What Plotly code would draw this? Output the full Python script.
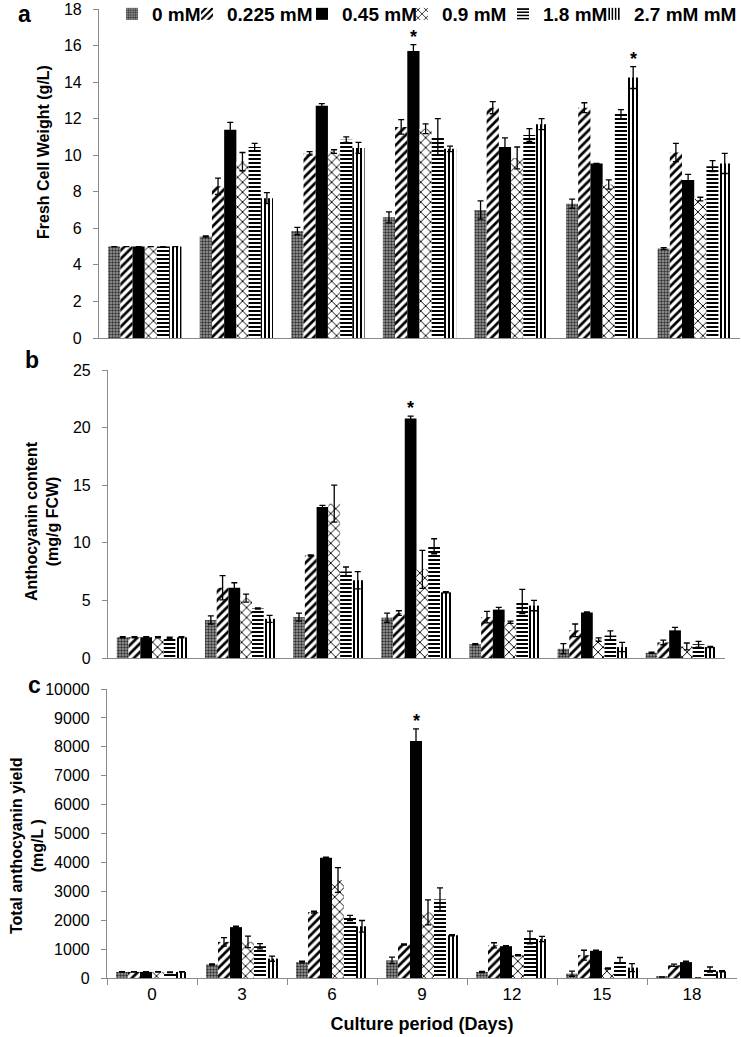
import plotly.graph_objects as go

days = ["0", "3", "6", "9", "12", "15", "18"]
conc = ["0 mM", "0.225 mM", "0.45 mM", "0.9 mM", "1.8 mM", "2.7 mM mM"]

# Panel a: Fresh cell weight (g/L)
fcw_0 = [5.0, 5.55, 5.85, 6.6, 7.0, 7.35, 4.9]
fcw_0225 = [5.0, 8.3, 10.1, 11.55, 12.6, 12.6, 10.15]
fcw_045 = [5.0, 11.4, 12.7, 15.7, 10.45, 9.55, 8.65]
fcw_09 = [5.0, 9.65, 10.2, 11.45, 9.85, 8.4, 7.6]
fcw_18 = [5.0, 10.45, 10.85, 11.0, 11.1, 12.25, 9.4]
fcw_27 = [5.0, 7.65, 10.4, 10.35, 11.7, 14.25, 9.55]
fcw_err_0 = [0, 0.03, 0.2, 0.3, 0.5, 0.25, 0.05]
fcw_err_0225 = [0, 0.45, 0.1, 0.4, 0.33, 0.27, 0.5]
fcw_err_045 = [0, 0.4, 0.12, 0.35, 0.5, 0, 0.3]
fcw_err_09 = [0, 0.5, 0.1, 0.27, 0.6, 0.25, 0.1]
fcw_err_18 = [0, 0.2, 0.15, 1.0, 0.35, 0.25, 0.3]
fcw_err_27 = [0, 0.3, 0.3, 0.15, 0.3, 0.6, 0.55]

# Panel b: Anthocyanin content (mg/g FCW)
ac_0 = [1.8, 3.3, 3.55, 3.5, 1.2, 0.8, 0.45]
ac_0225 = [1.8, 6.1, 8.9, 3.9, 3.55, 2.4, 1.35]
ac_045 = [1.8, 6.1, 13.1, 20.8, 4.2, 3.95, 2.4]
ac_09 = [1.8, 5.2, 13.4, 7.7, 3.1, 1.6, 1.0]
ac_18 = [1.75, 4.3, 7.5, 9.7, 4.9, 1.95, 1.2]
ac_27 = [1.8, 3.4, 6.75, 5.7, 4.55, 0.95, 0.95]
ac_err_0 = [0.05, 0.35, 0.35, 0.4, 0.05, 0.45, 0.05]
ac_err_0225 = [0.05, 1.05, 0.05, 0.2, 0.5, 0.55, 0.2]
ac_err_045 = [0.05, 0.43, 0.15, 0.2, 0.2, 0.05, 0.25]
ac_err_09 = [0.05, 0.35, 1.6, 1.65, 0.1, 0.15, 0.3]
ac_err_18 = [0.05, 0.05, 0.4, 0.65, 1.05, 0.4, 0.25]
ac_err_27 = [0.05, 0.3, 0.75, 0.05, 0.45, 0.4, 0.05]

# Panel c: Total anthocyanin yield (mg/L)
ty_0 = [210, 470, 550, 610, 210, 150, 35]
ty_0225 = [210, 1250, 2280, 1160, 1130, 790, 440]
ty_045 = [210, 1760, 4160, 8200, 1100, 940, 550]
ty_09 = [210, 1250, 3390, 2270, 790, 330, 0]
ty_18 = [200, 1100, 2080, 2720, 1400, 620, 290]
ty_27 = [210, 670, 1790, 1480, 1350, 360, 230]
ty_err_0 = [10, 20, 30, 110, 20, 90, 5]
ty_err_0225 = [10, 150, 30, 20, 90, 170, 40]
ty_err_045 = [10, 30, 20, 420, 20, 20, 30]
ty_err_09 = [10, 200, 430, 430, 20, 20, 0]
ty_err_18 = [10, 90, 90, 400, 220, 90, 90]
ty_err_27 = [10, 90, 200, 20, 90, 140, 20]

# significance stars: (panel, day index, concentration index)
stars = [(0, 3, 2), (0, 5, 5), (1, 3, 2), (2, 3, 2)]

panels = [
    ([fcw_0, fcw_0225, fcw_045, fcw_09, fcw_18, fcw_27],
     [fcw_err_0, fcw_err_0225, fcw_err_045, fcw_err_09, fcw_err_18, fcw_err_27]),
    ([ac_0, ac_0225, ac_045, ac_09, ac_18, ac_27],
     [ac_err_0, ac_err_0225, ac_err_045, ac_err_09, ac_err_18, ac_err_27]),
    ([ty_0, ty_0225, ty_045, ty_09, ty_18, ty_27],
     [ty_err_0, ty_err_0225, ty_err_045, ty_err_09, ty_err_18, ty_err_27]),
]

patterns = [
    dict(shape=".", fgcolor="#333333", bgcolor="#a0a0a0", size=3, solidity=0.5, fillmode="replace"),
    dict(shape="/", fgcolor="#000000", bgcolor="#ffffff", size=6, solidity=0.45, fillmode="replace"),
    dict(shape="", fgcolor="#000000", bgcolor="#000000"),
    dict(shape="x", fgcolor="#000000", bgcolor="#ffffff", size=7, solidity=0.25, fillmode="replace"),
    dict(shape="-", fgcolor="#000000", bgcolor="#ffffff", size=4, solidity=0.5, fillmode="replace"),
    dict(shape="|", fgcolor="#000000", bgcolor="#ffffff", size=4, solidity=0.5, fillmode="replace"),
]
colors = ["#9a9a9a", "#ffffff", "#000000", "#ffffff", "#ffffff", "#ffffff"]

W, H = 741, 1037
BARGAP = 0.2
FONT = "Liberation Sans, Arial, sans-serif"
legend_ids = ["legend", "legend2", "legend3", "legend4", "legend5", "legend6"]
legend_text_px = [150, 225, 340, 440, 541, 632]  # left edge of each legend label

fig = go.Figure()
axis_ids = ["", "2", "3"]
for p, (vals, errs) in enumerate(panels):
    for k, name in enumerate(conc):
        fig.add_trace(go.Bar(
            x=days, y=vals[k], name=name,
            xaxis="x" + axis_ids[p], yaxis="y" + axis_ids[p],
            marker=dict(color=colors[k], pattern=patterns[k], line=dict(width=0)),
            error_y=dict(type="data", array=errs[k], visible=True, color="#000000",
                         thickness=1.3, width=3),
            legendgroup=name, showlegend=(p == 0), legend=legend_ids[k],
        ))

# domains in pixel space
xdom_px = [(99, 740), (108, 725), (107, 737)]
ydom_px = [(9, 338), (370, 658), (689, 978)]
yranges = [(0, 18), (0, 25), (0, 10000)]
ydticks = [2, 5, 1000]

layout = dict(
    width=W, height=H,
    margin=dict(l=0, r=0, t=0, b=0, autoexpand=False),
    paper_bgcolor="white", plot_bgcolor="white",
    barmode="group", bargap=BARGAP, bargroupgap=0,
    font=dict(family=FONT, size=16, color="#000000"),
)
for k, lid in enumerate(legend_ids):
    layout[lid] = dict(x=(legend_text_px[k] - 38) / W, y=1 - 14 / H,
                       xanchor="left", yanchor="middle", orientation="h",
                       font=dict(family=FONT, size=19, weight="bold", color="#000000"),
                       bgcolor="rgba(255,255,255,0)", borderwidth=0, itemwidth=30)
for p in range(3):
    sfx = axis_ids[p]
    x0, x1 = xdom_px[p]
    yt, yb = ydom_px[p]
    layout["xaxis" + sfx] = dict(
        domain=[x0 / W, x1 / W], anchor="y" + sfx, type="category",
        showline=True, linecolor="#8a8a8a", linewidth=1.2,
        showgrid=False, zeroline=False,
        showticklabels=(p == 2), tickson="boundaries",
        ticks="outside" if p == 2 else "", ticklen=6, tickcolor="#8a8a8a",
        tickfont=dict(family=FONT, size=17),
        title=dict(text="Culture period (Days)" if p == 2 else "",
                   font=dict(family=FONT, size=18, weight="bold"), standoff=14),
        fixedrange=True,
    )
    layout["yaxis" + sfx] = dict(
        domain=[1 - yb / H, 1 - yt / H], anchor="x" + sfx,
        range=list(yranges[p]), dtick=ydticks[p], tick0=0, tickformat="d",
        showline=True, linecolor="#8a8a8a", linewidth=1.2,
        showgrid=False, zeroline=False,
        ticks="outside", ticklen=5, tickcolor="#8a8a8a",
        tickfont=dict(family=FONT, size=16), ticklabelstandoff=8,
        fixedrange=True,
    )
fig.update_layout(**layout)

annotations = []
# panel letters
for letter, (px, py) in zip(["a", "b", "c"], [(24, 14), (32, 360), (34, 685)]):
    annotations.append(dict(text="<b>%s</b>" % letter, x=px / W, y=1 - py / H,
                            xref="paper", yref="paper", xanchor="center", yanchor="middle",
                            showarrow=False,
                            font=dict(family=FONT, size=23, color="#000000")))
# y-axis titles
ytitles = [("Fresh Cell Weight (g/L)", 43, 152),
           ("Anthocyanin content<br>(mg/g FCW)", 42, 521),
           ("Total anthocyanin yield<br>(mg/L )", 27, 846)]
for txt, px, py in ytitles:
    annotations.append(dict(text=txt, x=px / W, y=1 - py / H, xref="paper", yref="paper",
                            xanchor="center", yanchor="middle",
                            showarrow=False, textangle=-90,
                            font=dict(family=FONT, size=16, weight="bold", color="#000000")))
# significance stars
bw = (1 - BARGAP) / len(conc)
for p, d, k in stars:
    vals, errs = panels[p]
    xpos = d - (1 - BARGAP) / 2 + (k + 0.5) * bw
    annotations.append(dict(text="<b>*</b>", x=xpos, y=vals[k][d] + errs[k][d],
                            xref="x" + axis_ids[p], yref="y" + axis_ids[p],
                            xanchor="center", yanchor="bottom", showarrow=False, yshift=-4,
                            font=dict(family=FONT, size=18, color="#000000")))
fig.update_layout(annotations=annotations)

fig.write_html("out.html", config={"displayModeBar": False},
               post_script="document.body.style.margin='0';")
